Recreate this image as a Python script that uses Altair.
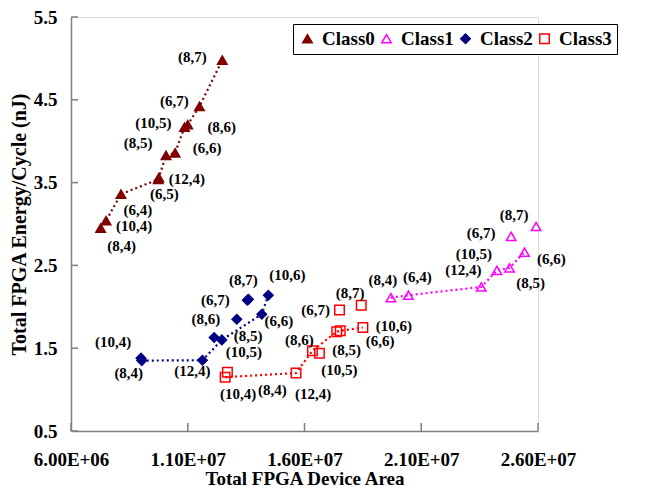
import altair as alt
import pandas as pd

# ---------------- data ----------------
classes = ["Class0", "Class1", "Class2", "Class3"]
class_colors = ["#800000", "#FF00FF", "#000080", "#FF0000"]
class_fills = ["#800000", "transparent", "#000080", "transparent"]
class_shapes = ["triangle-up", "triangle-up", "diamond", "square"]

c0_labels = ["(8,4)", "(10,4)", "(6,4)", "(12,4)", "(6,5)", "(8,5)", "(6,6)", "(10,5)", "(8,6)", "(6,7)", "(8,7)"]
c0_x = [7.27e6, 7.50e6, 8.14e6, 9.76e6, 9.74e6, 1.007e7, 1.046e7, 1.086e7, 1.100e7, 1.150e7, 1.248e7]
c0_y = [2.95, 3.04, 3.36, 3.56, 3.54, 3.83, 3.86, 4.17, 4.20, 4.42, 4.98]
c0_line = ["(8,4)", "(10,4)", "(6,4)", "(6,5)", "(12,4)", "(8,5)", "(6,6)", "(10,5)", "(8,6)", "(6,7)", "(8,7)"]

c1_labels = ["(8,4)", "(6,4)", "(12,4)", "(10,5)", "(8,5)", "(6,6)", "(6,7)", "(8,7)"]
c1_x = [1.970e7, 2.045e7, 2.357e7, 2.424e7, 2.478e7, 2.542e7, 2.485e7, 2.592e7]
c1_y = [2.11, 2.14, 2.24, 2.44, 2.47, 2.66, 2.85, 2.97]
c1_line = ["(8,4)", "(6,4)", "(12,4)", "(10,5)", "(8,5)", "(6,6)"]

c2_labels = ["(10,4)", "(8,4)", "(12,4)", "(8,5)", "(10,5)", "(8,6)", "(6,6)", "(6,7)", "(8,7)", "(10,6)"]
c2_x = [9.00e6, 9.03e6, 1.163e7, 1.213e7, 1.246e7, 1.310e7, 1.417e7, 1.355e7, 1.360e7, 1.445e7]
c2_y = [1.38, 1.35, 1.355, 1.63, 1.60, 1.85, 1.91, 2.08, 2.09, 2.14]
c2_line = ["(8,4)", "(12,4)", "(10,5)", "(6,6)", "(10,6)"]

c3_labels = ["(10,4)", "(8,4)", "(12,4)", "(8,6)", "(10,5)", "(8,5)", "(6,6)", "(10,6)", "(6,7)", "(8,7)"]
c3_x = [1.260e7, 1.270e7, 1.564e7, 1.634e7, 1.664e7, 1.738e7, 1.753e7, 1.850e7, 1.750e7, 1.843e7]
c3_y = [1.15, 1.21, 1.20, 1.47, 1.44, 1.70, 1.71, 1.75, 1.96, 2.02]
c3_line = ["(10,4)", "(12,4)", "(8,6)", "(8,5)", "(6,6)", "(10,6)"]

x_ticks = [6e6, 1.1e7, 1.6e7, 2.1e7, 2.6e7]
y_ticks = [0.5, 1.5, 2.5, 3.5, 4.5, 5.5]

# label placement offsets in pixels (right / down), per point
c0_dx = [21, 28, 17, 28, 6, -28, 32, -31, 34, -25, -30]
c0_dy = [18, 5, 16, 1, 15, -12, -5, -4, 2, -5, -3]
c1_dx = [-8, 9, -18, -23, 21, 27, -30, -22]
c1_dy = [-18, -18, -17, -16, 15, 7, -3, -11]
c2_dx = [-28, -13, -10, 34, 22, -31, 17, -32, -5, 19]
c2_dy = [-16, 12, 11, -1, 12, 0, 7, 0, -19, -20]
c3_dx = [13, 45, 17, -13, 20, 10, 40, 31, -24, -11]
c3_dy = [17, 18, 21, -11, 17, 18, 10, -2, 0, -12]

# ---------------- layout ----------------
W, H = 467, 414
XMIN, XMAX = 6e6, 2.6e7
YMIN, YMAX = 0.5, 5.5
FONT = "Liberation Serif"
AXIS_COLOR = "#7f7f7f"

sets = [
    (classes[0], c0_labels, c0_x, c0_y, c0_dx, c0_dy, c0_line, class_colors[0]),
    (classes[1], c1_labels, c1_x, c1_y, c1_dx, c1_dy, c1_line, class_colors[1]),
    (classes[2], c2_labels, c2_x, c2_y, c2_dx, c2_dy, c2_line, class_colors[2]),
    (classes[3], c3_labels, c3_x, c3_y, c3_dx, c3_dy, c3_line, class_colors[3]),
]

pt_rows, line_rows = [], []
for cls, labs, xs, ys, dxs, dys, line, col in sets:
    lookup = {}
    for l, x, y, dx, dy in zip(labs, xs, ys, dxs, dys):
        lookup[l] = (x, y)
        pt_rows.append(dict(cls=cls, label=l, x=x, y=y,
                            lx=x + dx * (XMAX - XMIN) / W,
                            ly=y - dy * (YMAX - YMIN) / H))
    for i, l in enumerate(line):
        line_rows.append(dict(cls=cls, x=lookup[l][0], y=lookup[l][1], order=i, col=col))

pts = pd.DataFrame(pt_rows)
lines = pd.DataFrame(line_rows)

xscale = alt.Scale(domain=[XMIN, XMAX], nice=False, zero=False)
yscale = alt.Scale(domain=[YMIN, YMAX], nice=False, zero=False)

xaxis = alt.Axis(values=x_ticks, ticks=False, grid=False,
                 labelExpr="replace(upper(format(datum.value, '.2e')), 'E+', 'E+0')",
                 domainColor=AXIS_COLOR, domainWidth=1.5,
                 labelFont=FONT, labelFontSize=19, labelFontWeight="bold", labelColor="black",
                 labelPadding=19, labelFlush=False, labelOverlap=False,
                 titleFont=FONT, titleFontSize=19, titleFontWeight="bold", titleColor="black",
                 titlePadding=0)
yaxis = alt.Axis(values=y_ticks, ticks=False, grid=False, format=".1f",
                 domainColor=AXIS_COLOR, domainWidth=1.5,
                 labelFont=FONT, labelFontSize=19, labelFontWeight="bold", labelColor="black",
                 labelPadding=14, labelFlush=False, labelOverlap=False,
                 titleFont=FONT, titleFontSize=20, titleFontWeight="bold", titleColor="black",
                 titlePadding=4)

XT = "Total FPGA Device Area"
YT = "Total FPGA Energy/Cycle (nJ)"

legend = alt.Legend(title=None, orient="none", legendX=222, legendY=7, direction="horizontal",
                    strokeColor="black", fillColor="white", padding=5,
                    labelFont=FONT, labelFontSize=19, labelFontWeight="bold", labelColor="black",
                    symbolSize=90, symbolStrokeWidth=1.5, labelOffset=5, columnPadding=2)

line_layer = alt.Chart(lines).mark_line(strokeDash=[2, 3], strokeWidth=2.2).encode(
    x=alt.X("x:Q", scale=xscale, axis=xaxis, title=XT),
    y=alt.Y("y:Q", scale=yscale, axis=yaxis, title=YT),
    color=alt.Color("col:N", scale=None),
    detail="cls:N",
    order="order:Q",
)

point_layer = alt.Chart(pts).mark_point(size=90, strokeWidth=1.5, opacity=1).encode(
    x=alt.X("x:Q", scale=xscale, axis=xaxis, title=XT),
    y=alt.Y("y:Q", scale=yscale, axis=yaxis, title=YT),
    shape=alt.Shape("cls:N", scale=alt.Scale(domain=classes, range=class_shapes), legend=legend),
    stroke=alt.Stroke("cls:N", scale=alt.Scale(domain=classes, range=class_colors), legend=legend),
    fill=alt.Fill("cls:N", scale=alt.Scale(domain=classes, range=class_fills), legend=legend),
)

text_layer = alt.Chart(pts).mark_text(font=FONT, fontSize=15, fontWeight="bold", color="black",
                                      align="center", baseline="middle").encode(
    x=alt.X("lx:Q", scale=xscale, axis=xaxis, title=XT),
    y=alt.Y("ly:Q", scale=yscale, axis=yaxis, title=YT),
    text="label:N",
)

ytick_layer = alt.Chart(pd.DataFrame({"v": y_ticks})).mark_rule(color=AXIS_COLOR, strokeWidth=1.5).encode(
    y=alt.Y("v:Q", scale=yscale, axis=yaxis, title=YT),
    x=alt.value(0), x2=alt.value(7),
)
xtick_layer = alt.Chart(pd.DataFrame({"v": x_ticks})).mark_rule(color=AXIS_COLOR, strokeWidth=1.5).encode(
    x=alt.X("v:Q", scale=xscale, axis=xaxis, title=XT),
    y=alt.value(H), y2=alt.value(H - 8),
)

chart = alt.layer(line_layer, ytick_layer, xtick_layer, point_layer, text_layer).properties(
    width=W, height=H,
    autosize=alt.AutoSizeParams(type="none"),
    padding={"left": 63, "top": 9, "right": 110, "bottom": 58},
).configure_view(stroke=None).configure(background="white")

chart.save("out.html", embed_options={"renderer": "svg", "actions": False})
